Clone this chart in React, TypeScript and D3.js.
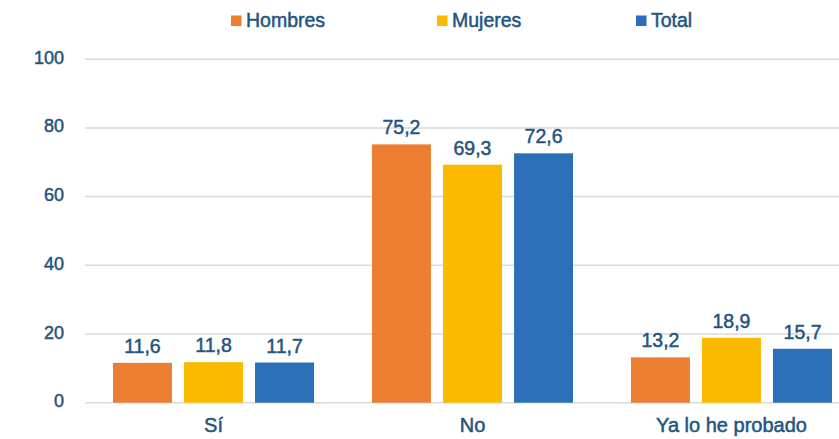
import React from "react";
import * as d3 from "d3";

const categories = ["Sí", "No", "Ya lo he probado"];
const seriesNames = ["Hombres", "Mujeres", "Total"];
const hombres = [11.6, 75.2, 13.2];
const mujeres = [11.8, 69.3, 18.9];
const total = [11.7, 72.6, 15.7];
const yTicks = [0, 20, 40, 60, 80, 100];

const colors = ["#ED7D31", "#FBBA00", "#2A6FB7"];
const textColor = "#23557F";
const W = 839;
const H = 439;
const FONT = "'Liberation Sans', Arial, sans-serif";
const textStyle = { stroke: textColor, strokeWidth: 0.5, fill: textColor };

export default function App() {
  const series = [hombres, mujeres, total];
  const y = d3.scaleLinear().domain([0, 100]).range([402.7, 59.2]);
  const x0 = d3.scaleBand<string>().domain(categories).range([84, 861]).paddingInner(0).paddingOuter(0);
  const groupPad = 29;
  const x1 = d3
    .scaleBand<string>()
    .domain(seriesNames)
    .range([groupPad, x0.bandwidth() - groupPad])
    .paddingInner(0.17)
    .paddingOuter(0);

  const legendX = [231, 437, 636];

  return (
    <svg
      width={W}
      height={H}
      style={{ position: "absolute", left: 0, top: 0, background: "#fff" }}
      fontFamily={FONT}
    >
      {yTicks.map((t) => (
        <g key={t}>
          <line x1={85} x2={W} y1={y(t)} y2={y(t)} stroke="#D9D9D9" strokeWidth={1.5} />
          <text x={64} y={y(t) + 4.5} textAnchor="end" fontSize={18} style={textStyle}>
            {t}
          </text>
        </g>
      ))}
      {categories.map((c, ci) => (
        <g key={c} transform={`translate(${x0(c)},0)`}>
          {series.map((s, si) => {
            const bx = x1(seriesNames[si])!;
            const bw = x1.bandwidth();
            return (
              <g key={si}>
                <rect x={bx} y={y(s[ci])} width={bw} height={y(0) - y(s[ci])} fill={colors[si]} />
                <text
                  x={bx + bw / 2}
                  y={y(s[ci]) - 10}
                  textAnchor="middle"
                  fontSize={19.5}
                  style={textStyle}
                >
                  {d3.format(".1f")(s[ci]).replace(".", ",")}
                </text>
              </g>
            );
          })}
          <text x={x0.bandwidth() / 2} y={432} textAnchor="middle" fontSize={20} style={textStyle}>
            {c}
          </text>
        </g>
      ))}
      {seriesNames.map((n, i) => (
        <g key={n}>
          <rect x={legendX[i]} y={15.5} width={10.5} height={10.5} fill={colors[i]} />
          <text x={legendX[i] + 15} y={27} fontSize={19.5} style={textStyle}>
            {n}
          </text>
        </g>
      ))}
    </svg>
  );
}
